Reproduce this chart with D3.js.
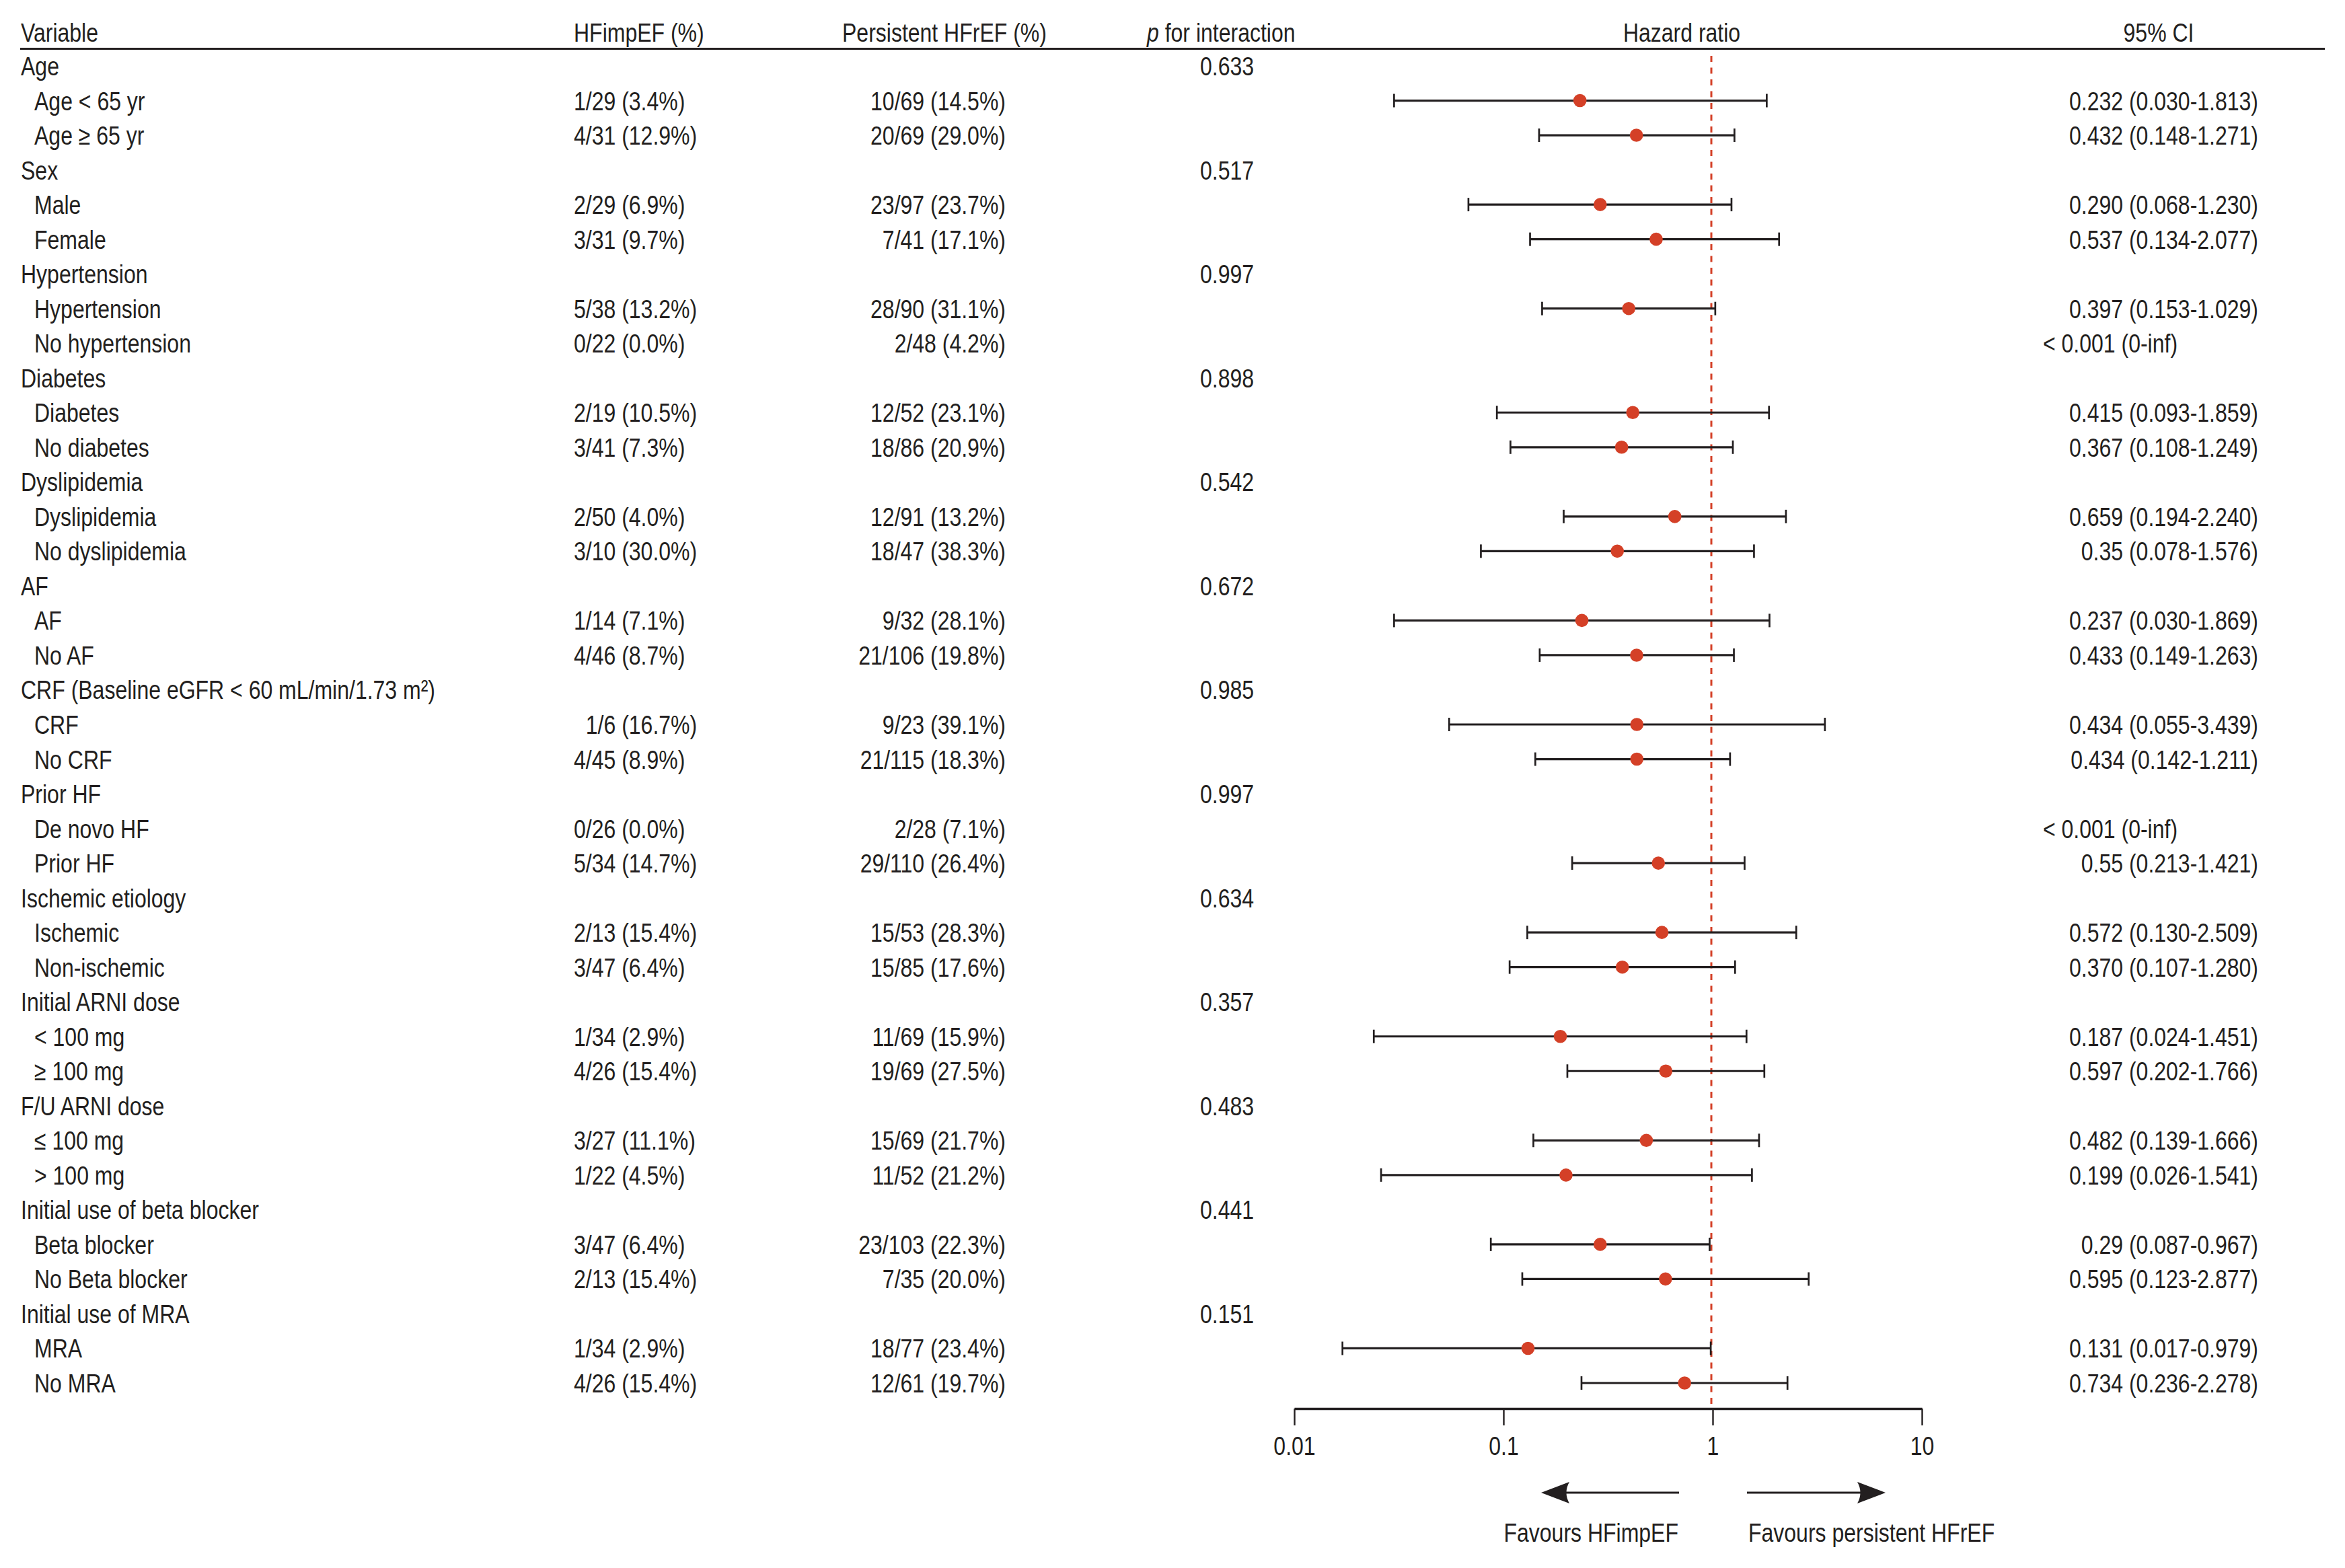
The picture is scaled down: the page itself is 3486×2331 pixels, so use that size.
<!DOCTYPE html>
<html>
<head>
<meta charset="utf-8">
<script src="https://cdn.jsdelivr.net/npm/d3@7"></script>
<style>
  body { margin: 0; background: #fff; }
  text { font-family: 'Liberation Sans', Arial, sans-serif; font-size: 39.5px; fill: #231f20; }
</style>
</head>
<body>
<div id="chart"></div>
<script>
// 資料
var groupLabels = ['Age', 'Sex', 'Hypertension', 'Diabetes', 'Dyslipidemia', 'AF',
  'CRF (Baseline eGFR < 60 mL/min/1.73 m\u00b2)', 'Prior HF', 'Ischemic etiology',
  'Initial ARNI dose', 'F/U ARNI dose', 'Initial use of beta blocker', 'Initial use of MRA'];
var pInteraction = ['0.633', '0.517', '0.997', '0.898', '0.542', '0.672', '0.985',
  '0.997', '0.634', '0.357', '0.483', '0.441', '0.151'];
var subLabels = ['Age < 65 yr', 'Age \u2265 65 yr', 'Male', 'Female', 'Hypertension', 'No hypertension',
  'Diabetes', 'No diabetes', 'Dyslipidemia', 'No dyslipidemia', 'AF', 'No AF', 'CRF', 'No CRF',
  'De novo HF', 'Prior HF', 'Ischemic', 'Non-ischemic', '< 100 mg', '\u2265 100 mg',
  '\u2264 100 mg', '> 100 mg', 'Beta blocker', 'No Beta blocker', 'MRA', 'No MRA'];
var hfimpef = ['1/29 (3.4%)', '4/31 (12.9%)', '2/29 (6.9%)', '3/31 (9.7%)', '5/38 (13.2%)', '0/22 (0.0%)',
  '2/19 (10.5%)', '3/41 (7.3%)', '2/50 (4.0%)', '3/10 (30.0%)', '1/14 (7.1%)', '4/46 (8.7%)',
  '\u20071/6 (16.7%)', '4/45 (8.9%)', '0/26 (0.0%)', '5/34 (14.7%)', '2/13 (15.4%)', '3/47 (6.4%)',
  '1/34 (2.9%)', '4/26 (15.4%)', '3/27 (11.1%)', '1/22 (4.5%)', '3/47 (6.4%)', '2/13 (15.4%)',
  '1/34 (2.9%)', '4/26 (15.4%)'];
var persistent = ['10/69 (14.5%)', '20/69 (29.0%)', '23/97 (23.7%)', '7/41 (17.1%)', '28/90 (31.1%)',
  '2/48 (4.2%)', '12/52 (23.1%)', '18/86 (20.9%)', '12/91 (13.2%)', '18/47 (38.3%)', '9/32 (28.1%)',
  '21/106 (19.8%)', '9/23 (39.1%)', '21/115 (18.3%)', '2/28 (7.1%)', '29/110 (26.4%)', '15/53 (28.3%)',
  '15/85 (17.6%)', '11/69 (15.9%)', '19/69 (27.5%)', '15/69 (21.7%)', '11/52 (21.2%)', '23/103 (22.3%)',
  '7/35 (20.0%)', '18/77 (23.4%)', '12/61 (19.7%)'];
var hr = [0.232, 0.432, 0.290, 0.537, 0.397, null, 0.415, 0.367, 0.659, 0.35, 0.237, 0.433, 0.434,
  0.434, null, 0.55, 0.572, 0.370, 0.187, 0.597, 0.482, 0.199, 0.29, 0.595, 0.131, 0.734];
var ciLow = [0.030, 0.148, 0.068, 0.134, 0.153, null, 0.093, 0.108, 0.194, 0.078, 0.030, 0.149, 0.055,
  0.142, null, 0.213, 0.130, 0.107, 0.024, 0.202, 0.139, 0.026, 0.087, 0.123, 0.017, 0.236];
var ciHigh = [1.813, 1.271, 1.230, 2.077, 1.029, null, 1.859, 1.249, 2.240, 1.576, 1.869, 1.263, 3.439,
  1.211, null, 1.421, 2.509, 1.280, 1.451, 1.766, 1.666, 1.541, 0.967, 2.877, 0.979, 2.278];
var ciText = ['0.232 (0.030-1.813)', '0.432 (0.148-1.271)', '0.290 (0.068-1.230)', '0.537 (0.134-2.077)',
  '0.397 (0.153-1.029)', '< 0.001 (0-inf)', '0.415 (0.093-1.859)', '0.367 (0.108-1.249)',
  '0.659 (0.194-2.240)', '0.35 (0.078-1.576)', '0.237 (0.030-1.869)', '0.433 (0.149-1.263)',
  '0.434 (0.055-3.439)', '0.434 (0.142-1.211)', '< 0.001 (0-inf)', '0.55 (0.213-1.421)',
  '0.572 (0.130-2.509)', '0.370 (0.107-1.280)', '0.187 (0.024-1.451)', '0.597 (0.202-1.766)',
  '0.482 (0.139-1.666)', '0.199 (0.026-1.541)', '0.29 (0.087-0.967)', '0.595 (0.123-2.877)',
  '0.131 (0.017-0.979)', '0.734 (0.236-2.278)'];
var axisTicks = [0.01, 0.1, 1, 10];
var axisTickLabels = ['0.01', '0.1', '1', '10'];
var headers = ['Variable', 'HFimpEF (%)', 'Persistent HFrEF (%)', 'for interaction', 'Hazard ratio', '95% CI'];
var favourLabels = ['Favours HFimpEF', 'Favours persistent HFrEF'];

// 畫布相關
const W = 3486, H = 2331;
const sx = 0.81;           // 字寬壓縮
const ink = '#231f20', red = '#d44027';
const col = {varX: 31, indent: 51, hf: 853, pers: 1495, p: 1784, ciEnd: 3357, ciNone: 3037};

// 建立 rows：每組 1 個標題 + 2 個子項
var rows = [];
groupLabels.forEach(function(g, gi) {
  rows.push({type: 'group', label: g, p: pInteraction[gi]});
  for (var k = 0; k < 2; k++) {
    var i = gi * 2 + k;
    rows.push({type: 'sub', label: subLabels[i], hf: hfimpef[i], pers: persistent[i],
      hr: hr[i], lo: ciLow[i], hi: ciHigh[i], ci: ciText[i]});
  }
});

const svg = d3.select('#chart').append('svg').attr('width', W).attr('height', H);
svg.append('rect').attr('width', W).attr('height', H).attr('fill', '#fff');

const y = d3.scalePoint().domain(d3.range(rows.length)).range([112, 2070]);
const x = d3.scaleLog().domain([0.01, 10]).range([1924, 2857]);
const midY = i => y(i) - 14;

function txt(g, px, py, s, anchor) {
  return g.append('text')
    .attr('transform', `translate(${px},${py}) scale(${sx},1)`)
    .attr('text-anchor', anchor || 'start')
    .text(s);
}

// 標題
var hdr = svg.append('g');
txt(hdr, col.varX, 62, headers[0]);
txt(hdr, col.hf, 62, headers[1]);
txt(hdr, 1252, 62, headers[2]);
var pt = hdr.append('text').attr('transform', `translate(1705,62) scale(${sx},1)`);
pt.append('tspan').style('font-style', 'italic').text('p');
pt.append('tspan').text(' ' + headers[3]);
txt(hdr, 2500, 62, headers[4], 'middle');
txt(hdr, 3209, 62, headers[5], 'middle');
hdr.append('line').attr('x1', 30).attr('x2', 3456).attr('y1', 72.5).attr('y2', 72.5)
  .attr('stroke', ink).attr('stroke-width', 3);

// 表格文字
var tbl = svg.append('g');
rows.forEach(function(r, i) {
  if (r.type == 'group') {
    txt(tbl, col.varX, y(i), r.label);
    txt(tbl, col.p, y(i), r.p);
  } else {
    txt(tbl, col.indent, y(i), r.label);
    txt(tbl, col.hf, y(i), r.hf);
    txt(tbl, col.pers, y(i), r.pers, 'end');
    if (r.hr == null) txt(tbl, col.ciNone, y(i), r.ci);
    else txt(tbl, col.ciEnd, y(i), r.ci, 'end');
  }
});

// 參考線 (HR = 1)
const axisY = 2094;
svg.append('line')
  .attr('x1', x(1) - 2).attr('x2', x(1) - 2).attr('y1', 83).attr('y2', axisY)
  .attr('stroke', red).attr('stroke-width', 3).attr('stroke-dasharray', '9,8.5');

// 信賴區間
var est = rows.map((r, i) => Object.assign({i: i}, r)).filter(r => r.type == 'sub' && r.hr != null);
var ciG = svg.append('g').attr('stroke', ink).attr('stroke-width', 3.2);
ciG.selectAll('line.ci').data(est).enter().append('line')
  .attr('x1', d => x(d.lo)).attr('x2', d => x(d.hi))
  .attr('y1', d => midY(d.i)).attr('y2', d => midY(d.i));
ciG.selectAll('line.capl').data(est).enter().append('line')
  .attr('x1', d => x(d.lo)).attr('x2', d => x(d.lo))
  .attr('y1', d => midY(d.i) - 10).attr('y2', d => midY(d.i) + 10).attr('stroke-width', 2.7);
ciG.selectAll('line.caph').data(est).enter().append('line')
  .attr('x1', d => x(d.hi)).attr('x2', d => x(d.hi))
  .attr('y1', d => midY(d.i) - 10).attr('y2', d => midY(d.i) + 10).attr('stroke-width', 2.7);
svg.selectAll('circle.pt').data(est).enter().append('circle')
  .attr('cx', d => x(d.hr)).attr('cy', d => midY(d.i)).attr('r', 9.8)
  .attr('fill', red);

// X 軸
var xAxis = d3.axisBottom(x).tickValues(axisTicks).tickSize(25).tickSizeOuter(0)
  .tickFormat((d, k) => axisTickLabels[k]);
var ax = svg.append('g').attr('transform', `translate(0,${axisY})`).call(xAxis);
ax.select('.domain').attr('stroke', ink).attr('stroke-width', 3.5);
ax.selectAll('.tick line').attr('stroke', ink).attr('stroke-width', 2.4);
ax.selectAll('.tick text').attr('fill', ink).attr('font-size', null).attr('font-family', null)
  .attr('y', 0).attr('dy', 0)
  .attr('transform', `translate(0,69) scale(${sx},1)`)
  .attr('text-anchor', 'middle');

// 箭頭
const arrowY = 2219;
function arrow(xStart, xTip) {
  var dir = xTip < xStart ? -1 : 1;
  var back = xTip - dir * 42;
  svg.append('line').attr('x1', xStart).attr('x2', back + dir * 6).attr('y1', arrowY).attr('y2', arrowY)
    .attr('stroke', ink).attr('stroke-width', 3.2);
  svg.append('path')
    .attr('d', `M${xTip},${arrowY} L${back},${arrowY - 16} Q${back + dir * 9},${arrowY} ${back},${arrowY + 16} Z`)
    .attr('fill', ink);
}
arrow(x(1) - 50, x(1) - 255);
arrow(x(1) + 51, x(1) + 257);
txt(svg, x(1) - 51, 2292, favourLabels[0], 'end');
txt(svg, x(1) + 53, 2292, favourLabels[1]);
</script>
</body>
</html>
